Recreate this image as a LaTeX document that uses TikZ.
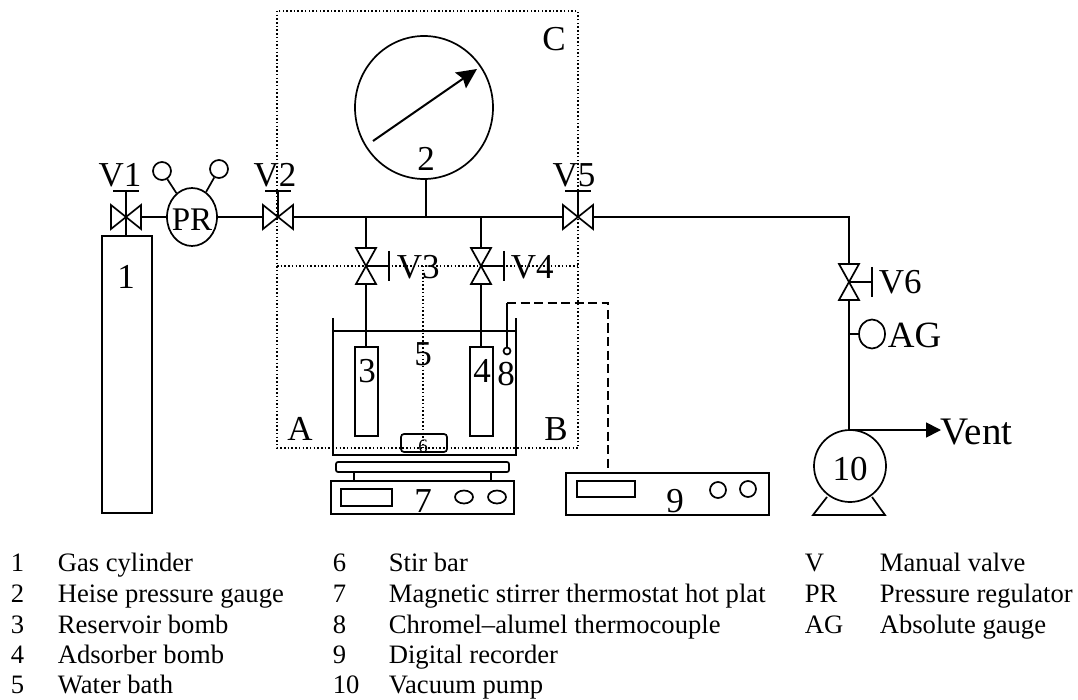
\documentclass[tikz,border=0pt]{standalone}
\usepackage{fontspec}
\setmainfont{Liberation Serif}
\usetikzlibrary{arrows.meta,shapes.geometric}

\tikzset{
  part/.style={draw,fill=white,inner sep=0pt,minimum size=0pt},
  tag/.style={inner sep=0pt,anchor=base,font=\fontsize{35}{35}\selectfont},
  tagl/.style={tag,anchor=base west},
  leg/.style={inner sep=0pt,anchor=base west,font=\fontsize{26.6}{26.6}\selectfont},
  zone/.style={line width=1.5pt,dash pattern=on 1.5pt off 2.2pt},
  hvalve/.pic={
    \draw[fill=white] (-15,-12) -- (15,12) -- (15,-12) -- (-15,12) -- cycle;
    \draw (0,0) -- (0,-26) (-13,-26) -- (13,-26);},
  vvalve/.pic={
    \draw[fill=white] (-10,-18) -- (10,18) -- (-10,18) -- (10,-18) -- cycle;
    \draw (0,0) -- (23,0) (23,-15) -- (23,15);}
}

\begin{document}
\begin{tikzpicture}[x=1pt,y=-1pt,>=Stealth,line width=1.7pt]
  \useasboundingbox (0,0) rectangle (1078,700);

  % Zones
  \draw[zone] (277,11) rectangle (578,448);
  \draw[zone] (277,266) -- (578,266);
  \draw[zone] (423,266) -- (423,448);

  % Junctions
  \coordinate (v1) at (126,217);
  \coordinate (v2) at (278,217);
  \coordinate (v3) at (366,266);
  \coordinate (v4) at (481,266);
  \coordinate (v5) at (578,217);
  \coordinate (v6) at (849,282);
  \coordinate (tee3) at (366,217);
  \coordinate (tee2) at (426,217);
  \coordinate (tee4) at (481,217);
  \coordinate (corner) at (849,217);
  \coordinate (teeag) at (849,334);
  \coordinate (teevent) at (849,430);
  \coordinate (ventend) at (941,430);
  \coordinate (tctop) at (507,303);
  \coordinate (recin) at (608,473);

  % Parts
  \node[part,minimum width=50pt,minimum height=277pt] (cyl) at (127,374.5) {};
  \node[part,ellipse,minimum width=50pt,minimum height=58pt] (pr) at (192,217) {};
  \node[part,circle,minimum size=18pt] (pra) at (162,171) {};
  \node[part,circle,minimum size=18pt] (prb) at (219,169) {};
  \node[part,ellipse,minimum width=138pt,minimum height=143pt] (gauge) at (424,107.5) {};
  \node[part,minimum width=23pt,minimum height=89pt] (bomb3) at (366.5,391.5) {};
  \node[part,minimum width=23pt,minimum height=89pt] (bomb4) at (481.5,391.5) {};
  \node[part,circle,minimum size=7pt] (tc) at (507,351) {};
  \node[part,minimum width=203pt,minimum height=42pt] (rec) at (667.5,494) {};
  \node[part,ellipse,minimum width=26pt,minimum height=29pt] (ag) at (872,334) {};
  \node[part,circle,minimum size=72pt] (pump) at (850,466) {};

  % Water bath, stirrer
  \draw (333,318) -- (333,455) -- (516,455) -- (516,318);
  \draw (333,331) -- (516,331);
  \node[part,fill=none,rounded corners=3pt,minimum width=46pt,minimum height=18pt] (bar) at (424,443) {};
  \node[part,rounded corners=2pt,minimum width=173pt,minimum height=10pt] (plate) at (422.5,467) {};
  \node[part,minimum width=183pt,minimum height=33pt] (hot) at (422.5,497.5) {};
  \draw (354,472) -- (354,481) (491,472) -- (491,481);
  \node[part,minimum width=51pt,minimum height=17pt] (hotlcd) at (366.5,497.5) {};
  \node[part,ellipse,minimum width=18pt,minimum height=13pt] (hotk1) at (464,497) {};
  \node[part,ellipse,minimum width=18pt,minimum height=13pt] (hotk2) at (497,497) {};
  \node[part,minimum width=58pt,minimum height=16pt] (reclcd) at (606,489) {};
  \node[part,circle,minimum size=16pt] (reck1) at (718,490) {};
  \node[part,circle,minimum size=16pt] (reck2) at (748,489) {};
  \draw (827,497) -- (813,515) -- (885,515) -- (872,497);

  % Pipes
  \draw (v1) -- (cyl.north -| v1);
  \draw (v1) -- (pr);
  \draw (pra) -- (pr);
  \draw (prb) -- (pr);
  \draw (pr) -- (v2) -- (v5) -- (corner) -- (v6) -- (teeag) -- (teevent);
  \draw (tee2) -- (tee2 |- gauge.south);
  \draw (tee3) -- (v3) -- (bomb3.north -| v3);
  \draw (tee4) -- (v4) -- (bomb4.north -| v4);
  \draw (ag) -- (teeag);
  \draw (tc) -- (tctop);
  \draw[line width=1.5pt,dash pattern=on 9pt off 4.5pt] (tctop) -| (recin);
  \draw[-{Triangle[length=15pt,width=15pt]}] (teevent) -- (ventend);
  \draw[-{Stealth[length=20pt,width=19pt,inset=3pt]},line width=2pt] (373,141) -- (477,69);

  % Valves
  \pic at (v1) {hvalve};
  \pic at (v2) {hvalve};
  \pic at (v5) {hvalve};
  \pic at (v3) {vvalve};
  \pic at (v4) {vvalve};
  \pic at (v6) {vvalve};

  % Labels
  \node[tag] (tv1) at (120,187) {V1};
  \node[tag] (tv2) at (275,187) {V2};
  \node[tag] (tv5) at (574,187) {V5};
  \node[tagl] (tv3) at (396,279) {V3};
  \node[tagl] (tv4) at (510,279) {V4};
  \node[tagl] (tv6) at (878,294) {V6};
  \node[tagl,font=\fontsize{37}{37}\selectfont] (tag) at (887,348) {AG};
  \node[tagl,font=\fontsize{39}{39}\selectfont] (tvent) at (940,444) {Vent};
  \node[tag,font=\fontsize{33}{33}\selectfont] (tpr) at (192,231) {PR};
  \node[tag] (ta) at (300,440) {A};
  \node[tag] (tb) at (556,440) {B};
  \node[tag] (tc1) at (554,51) {C};
  \node[tag] (t1) at (126,289) {1};
  \node[tag] (t2) at (426,171) {2};
  \node[tag] (t3) at (367,382) {3};
  \node[tag] (t4) at (482,382) {4};
  \node[tag] (t5) at (423,365) {5};
  \node[tag,font=\fontsize{19}{19}\selectfont] (t6) at (423,452) {6};
  \node[tag] (t7) at (423,512) {7};
  \node[tag] (t8) at (506,385) {8};
  \node[tag] (t9) at (675,512) {9};
  \node[tag] (t10) at (850,480) {10};

  % Legend
  \node[leg] (n1) at (10,571) {1};   \node[leg] (l1) at (57,571) {Gas cylinder};
  \node[leg] (n2) at (10,602) {2};   \node[leg] (l2) at (57,602) {Heise pressure gauge};
  \node[leg] (n3) at (10,633) {3};   \node[leg] (l3) at (57,633) {Reservoir bomb};
  \node[leg] (n4) at (10,663) {4};   \node[leg] (l4) at (57,663) {Adsorber bomb};
  \node[leg] (n5) at (10,693) {5};   \node[leg] (l5) at (57,693) {Water bath};
  \node[leg] (n6) at (332,571) {6};  \node[leg] (l6) at (388,571) {Stir bar};
  \node[leg] (n7) at (332,602) {7};  \node[leg] (l7) at (388,602) {Magnetic stirrer thermostat hot plat};
  \node[leg] (n8) at (332,633) {8};  \node[leg] (l8) at (388,633) {Chromel–alumel thermocouple};
  \node[leg] (n9) at (332,663) {9};  \node[leg] (l9) at (388,663) {Digital recorder};
  \node[leg] (n10) at (332,693) {10}; \node[leg] (l10) at (388,693) {Vacuum pump};
  \node[leg] (nv) at (804,571) {V};  \node[leg] (lv) at (879,571) {Manual valve};
  \node[leg] (npr) at (804,602) {PR}; \node[leg] (lpr) at (879,602) {Pressure regulator};
  \node[leg] (nag) at (804,633) {AG}; \node[leg] (lag) at (879,633) {Absolute gauge};
\end{tikzpicture}
\end{document}
